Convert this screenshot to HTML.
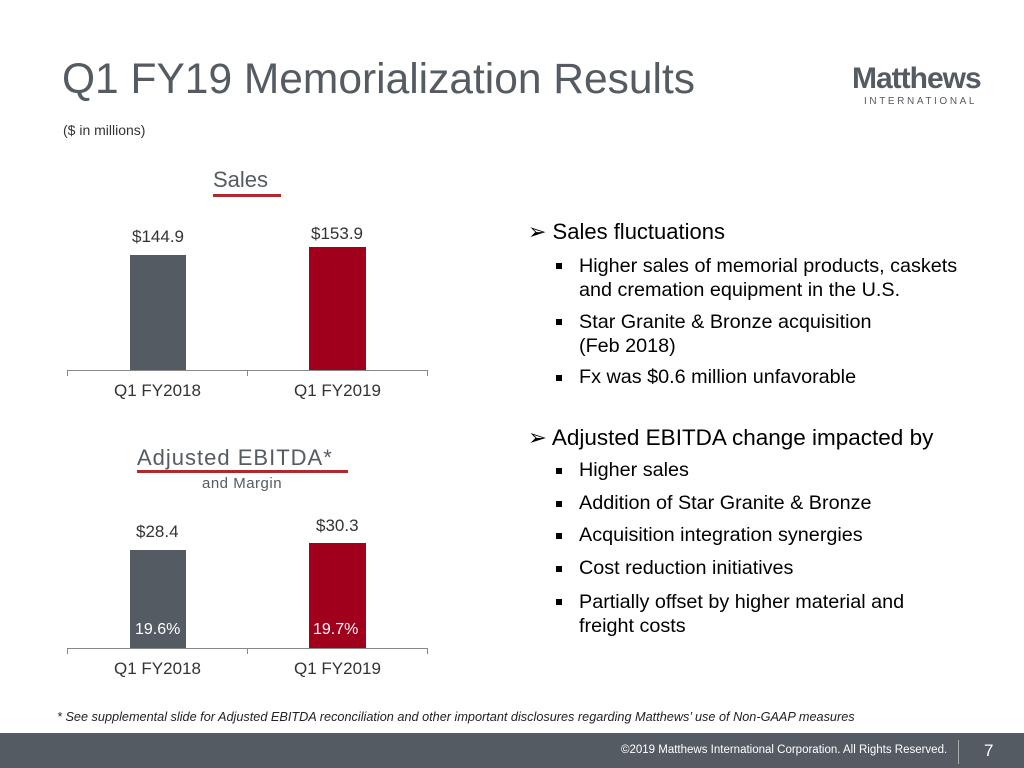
<!DOCTYPE html>
<html><head><meta charset="utf-8"><style>
body{margin:0;width:1024px;height:768px;position:relative;background:#fff;font-family:"Liberation Sans",sans-serif;overflow:hidden;color:#000}
.a{position:absolute;white-space:nowrap}
.b{position:absolute;width:6px;height:6px;background:#000}
</style></head><body>
<div class="a" style="left:62px;top:56px;font-size:42.5px;color:#545b62">Q1 FY19 Memorialization Results</div>
<div class="a" style="left:63px;top:122px;font-size:14px;color:#333">($ in millions)</div>
<div class="a" style="left:852px;top:62px;font-size:30px;font-weight:bold;color:#545b62;letter-spacing:-1px">Matthews</div>
<div class="a" style="left:864px;top:96px;font-size:10px;color:#545b62;letter-spacing:2.6px">INTERNATIONAL</div>

<div class="a" style="left:213px;top:167px;font-size:22px;color:#545b62">Sales</div>
<div class="a" style="left:213px;top:194px;width:68px;height:3px;background:#b0272e"></div>
<div class="a" style="left:132px;top:227px;font-size:17px;color:#333">$144.9</div>
<div class="a" style="left:311px;top:224px;font-size:17px;color:#333">$153.9</div>
<div class="a" style="left:130px;top:255px;width:56px;height:115px;background:#545b62"></div>
<div class="a" style="left:309px;top:247px;width:57px;height:123px;background:#a0001c"></div>
<div class="a" style="left:67px;top:370px;width:361px;height:1px;background:#888"></div>
<div class="a" style="left:67px;top:370px;width:1px;height:6px;background:#888"></div>
<div class="a" style="left:247px;top:370px;width:1px;height:6px;background:#888"></div>
<div class="a" style="left:427px;top:370px;width:1px;height:6px;background:#888"></div>
<div class="a" style="left:114px;top:381px;font-size:17px;color:#333">Q1 FY2018</div>
<div class="a" style="left:294px;top:381px;font-size:17px;color:#333">Q1 FY2019</div>

<div class="a" style="left:137px;top:445px;font-size:22px;color:#545b62;letter-spacing:1px">Adjusted EBITDA*</div>
<div class="a" style="left:137px;top:470px;width:211px;height:3px;background:#b0272e"></div>
<div class="a" style="left:202px;top:475px;font-size:15px;color:#545b62;letter-spacing:0.5px">and Margin</div>
<div class="a" style="left:136px;top:522px;font-size:17px;color:#333">$28.4</div>
<div class="a" style="left:316px;top:516px;font-size:17px;color:#333">$30.3</div>
<div class="a" style="left:130px;top:550px;width:56px;height:98px;background:#545b62"></div>
<div class="a" style="left:309px;top:543px;width:57px;height:105px;background:#a0001c"></div>
<div class="a" style="left:135px;top:621px;font-size:16px;color:#fff">19.6%</div>
<div class="a" style="left:313px;top:621px;font-size:16px;color:#fff">19.7%</div>
<div class="a" style="left:67px;top:648px;width:361px;height:1px;background:#888"></div>
<div class="a" style="left:67px;top:648px;width:1px;height:6px;background:#888"></div>
<div class="a" style="left:247px;top:648px;width:1px;height:6px;background:#888"></div>
<div class="a" style="left:427px;top:648px;width:1px;height:6px;background:#888"></div>
<div class="a" style="left:114px;top:659px;font-size:17px;color:#333">Q1 FY2018</div>
<div class="a" style="left:294px;top:659px;font-size:17px;color:#333">Q1 FY2019</div>

<div class="a" style="left:528px;top:219px;font-size:22px">➢ Sales fluctuations</div>
<div class="b" style="left:556px;top:263px"></div>
<div class="a" style="left:579px;top:254px;font-size:19.8px;line-height:24px">Higher sales of memorial products, caskets<br>and cremation equipment in the U.S.</div>
<div class="b" style="left:556px;top:319px"></div>
<div class="a" style="left:579px;top:310px;font-size:19.8px;line-height:24px">Star Granite &amp; Bronze acquisition<br>(Feb 2018)</div>
<div class="b" style="left:556px;top:375px"></div>
<div class="a" style="left:579px;top:366px;font-size:19.8px">Fx was $0.6 million unfavorable</div>
<div class="a" style="left:528px;top:425px;font-size:22.5px">➢ Adjusted EBITDA change impacted by</div>
<div class="b" style="left:556px;top:468px"></div>
<div class="a" style="left:579px;top:459px;font-size:19.8px">Higher sales</div>
<div class="b" style="left:556px;top:501px"></div>
<div class="a" style="left:579px;top:492px;font-size:19.8px">Addition of Star Granite &amp; Bronze</div>
<div class="b" style="left:556px;top:533px"></div>
<div class="a" style="left:579px;top:524px;font-size:19.8px">Acquisition integration synergies</div>
<div class="b" style="left:556px;top:566px"></div>
<div class="a" style="left:579px;top:557px;font-size:19.8px">Cost reduction initiatives</div>
<div class="b" style="left:556px;top:599px"></div>
<div class="a" style="left:579px;top:590px;font-size:19.8px;line-height:24px">Partially offset by higher material and<br>freight costs</div>

<div class="a" style="left:57px;top:710px;font-size:12.7px;font-style:italic;color:#222">* See supplemental slide for Adjusted EBITDA reconciliation and other important disclosures regarding Matthews’ use of Non-GAAP measures</div>
<div class="a" style="left:0;top:733px;width:1024px;height:35px;background:#545b62"></div>
<div class="a" style="left:621px;top:744px;font-size:11.5px;color:#fff">©2019 Matthews International Corporation. All Rights Reserved.</div>
<div class="a" style="left:958px;top:740px;width:1px;height:24px;background:#aaa"></div>
<div class="a" style="left:984px;top:741px;font-size:17px;color:#fff">7</div>
</body></html>
